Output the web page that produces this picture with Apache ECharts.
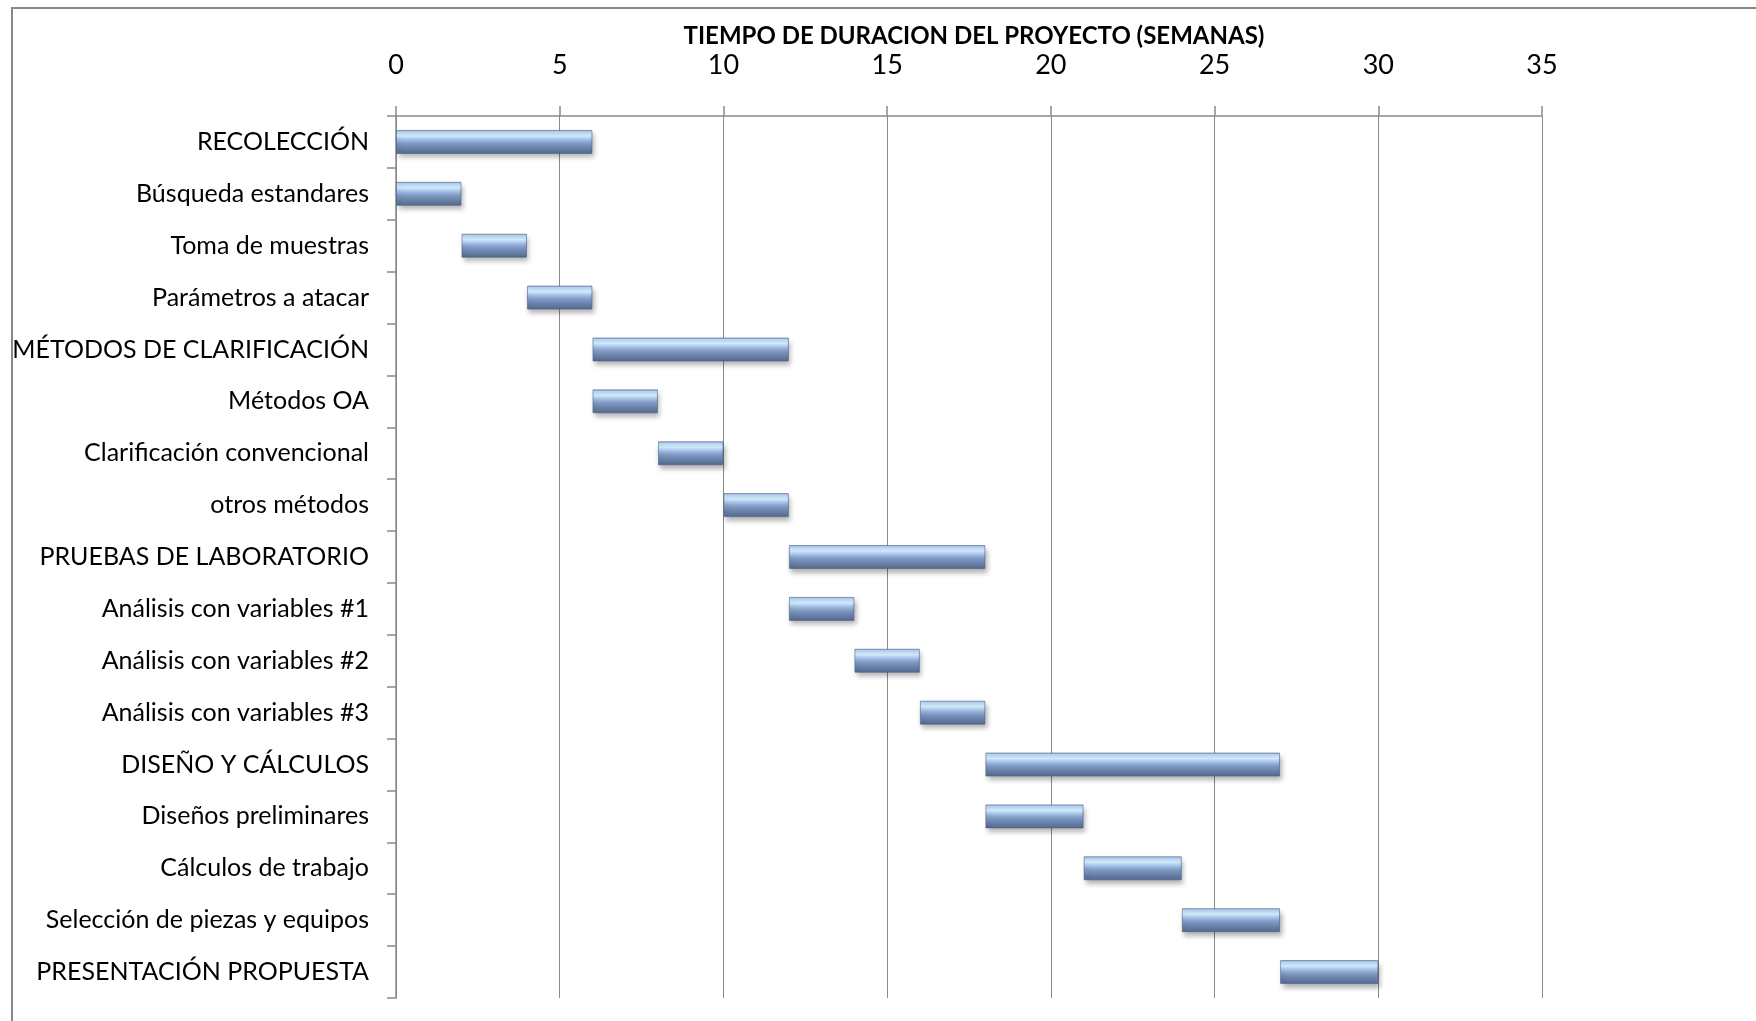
<!DOCTYPE html>
<html>
<head>
<meta charset="utf-8">
<script src="https://cdn.jsdelivr.net/npm/echarts@6/dist/echarts.min.js"></script>
<style>
html,body{margin:0;padding:0;background:#fff;}
#chart{width:1756px;height:1021px;}
</style>
</head>
<body>
<div id="chart"></div>
<script>
const titleText = 'TIEMPO DE DURACION DEL PROYECTO (SEMANAS)';
const categories = [
  'RECOLECCIÓN',
  'Búsqueda estandares',
  'Toma de muestras',
  'Parámetros a atacar',
  'MÉTODOS DE CLARIFICACIÓN',
  'Métodos OA',
  'Clarificación convencional',
  'otros métodos',
  'PRUEBAS DE LABORATORIO',
  'Análisis con variables #1',
  'Análisis con variables #2',
  'Análisis con variables #3',
  'DISEÑO Y CÁLCULOS',
  'Diseños preliminares',
  'Cálculos de trabajo',
  'Selección de piezas y equipos',
  'PRESENTACIÓN PROPUESTA'
];
const startWeeks = [0, 0, 2, 4, 6, 6, 8, 10, 12, 12, 14, 16, 18, 18, 21, 24, 27];
const endWeeks   = [6, 2, 4, 6, 12, 8, 10, 12, 18, 14, 16, 18, 27, 21, 24, 27, 30];
const xTicks = [0, 5, 10, 15, 20, 25, 30, 35];

const durations = endWeeks.map((e, i) => e - startWeeks[i]);
const FONT = "Lato, 'Open Sans', sans-serif";

const chart = echarts.init(document.getElementById('chart'), null, {renderer: 'canvas'});
chart.setOption({
  animation: false,
  backgroundColor: '#ffffff',
  title: {
    text: titleText,
    left: 969, top: 19,
    textAlign: 'center',
    textStyle: {fontFamily: FONT, fontSize: 24, fontWeight: 'bold', color: '#000'}
  },
  graphic: [{
    type: 'rect',
    shape: {x: 12, y: 8, width: 1800, height: 1100},
    style: {fill: 'none', stroke: '#888888', lineWidth: 2},
    silent: true, z: 0
  }],
  grid: {left: 396, right: 214, top: 116, bottom: 23, containLabel: false, outerBoundsMode: 'none'},
  xAxis: {
    type: 'value',
    position: 'top',
    min: xTicks[0], max: xTicks[xTicks.length - 1], interval: 5,
    axisLine: {show: true, lineStyle: {color: '#8a8a8a', width: 1.5}},
    axisTick: {show: true, length: 10, lineStyle: {color: '#8a8a8a', width: 1.5}},
    axisLabel: {fontFamily: FONT, fontSize: 27, color: '#000', margin: 37},
    splitLine: {show: true, lineStyle: {color: '#8a8a8a', width: 1}}
  },
  yAxis: {
    type: 'category',
    inverse: true,
    data: categories,
    axisLine: {show: true, lineStyle: {color: '#8a8a8a', width: 1.5}},
    axisTick: {show: true, length: 9, lineStyle: {color: '#8a8a8a', width: 1.5}},
    axisLabel: {fontFamily: FONT, fontSize: 25, color: '#000', margin: 27}
  },
  series: [
    {
      type: 'bar', stack: 'g', data: startWeeks, barWidth: 24,
      itemStyle: {color: 'rgba(0,0,0,0)'}, silent: true
    },
    {
      type: 'bar', stack: 'g', data: durations, barWidth: 24,
      itemStyle: {
        color: {type: 'linear', x: 0, y: 0, x2: 0, y2: 1, colorStops: [
          {offset: 0, color: '#8aa4cc'},
          {offset: 0.08, color: '#b8d3f4'},
          {offset: 0.25, color: '#d4efff'},
          {offset: 0.4, color: '#a4c0e8'},
          {offset: 0.55, color: '#819cc6'},
          {offset: 0.75, color: '#6a83ab'},
          {offset: 1, color: '#54678a'}
        ]},
        borderColor: 'rgba(70,90,130,0.55)', borderWidth: 1,
        shadowColor: 'rgba(0,0,0,0.3)', shadowBlur: 5, shadowOffsetX: 2, shadowOffsetY: 4
      }
    }
  ]
});
</script>
</body>
</html>
